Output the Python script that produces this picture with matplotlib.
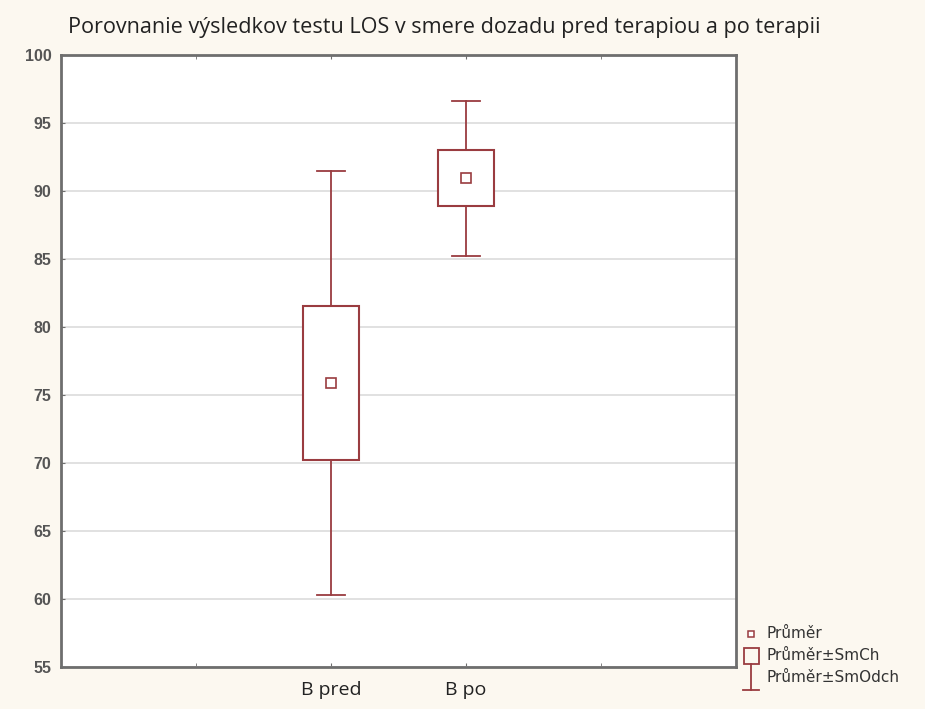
import matplotlib.pyplot as plt
from matplotlib.patches import Rectangle
from matplotlib.lines import Line2D
import numpy as np

# data
groups = ['B pred', 'B po']
means = [75.88, 90.95]
se = [5.66, 2.05]      # SmCh
sd = [15.6, 5.7]       # SmOdch

title = 'Porovnanie výsledkov testu LOS v smere dozadu pred terapiou a po terapii'
legend_labels = ['Průměr', 'Průměr±SmCh', 'Průměr±SmOdch']

red = '#9a3c40'
bg = '#fcf8f0'

fig = plt.figure(figsize=(9.25, 7.09), dpi=100, facecolor=bg)
ax = fig.add_axes([61/925, 1-667/709, (736-61)/925, (667-55)/709])
ax.set_facecolor('white')

pos = np.arange(len(groups)) + 2
box_w = 0.41
cap_w = 0.21
for x, m, s, d in zip(pos, means, se, sd):
	ax.plot([x, x], [m+s, m+d], color=red, lw=1.3, zorder=3)
	ax.plot([x, x], [m-s, m-d], color=red, lw=1.3, zorder=3)
	ax.plot([x-cap_w/2, x+cap_w/2], [m+d, m+d], color=red, lw=1.3, zorder=3)
	ax.plot([x-cap_w/2, x+cap_w/2], [m-d, m-d], color=red, lw=1.3, zorder=3)
	ax.add_patch(Rectangle((x-box_w/2, m-s), box_w, 2*s, fill=True, facecolor='white',
		edgecolor=red, lw=1.5, zorder=4))
	ax.plot(x, m, 's', ms=6.5, mfc='white', mec=red, mew=1.2, zorder=5)

ax.set_xlim(0, 5)
ax.set_ylim(55, 100)
ax.set_yticks(np.arange(55, 101, 5))
ax.set_xticks(pos)
ax.set_xticklabels(groups)
ax.xaxis.set_minor_locator(plt.FixedLocator([1, 4]))
ax.grid(axis='y', color='#dcdcdc', lw=1.2, zorder=0)
for sp in ax.spines.values():
	sp.set_color('#6e6e6e')
	sp.set_linewidth(2)
ax.tick_params(axis='y', direction='in', length=3, color='#6e6e6e', labelsize=11.5,
	labelcolor='#555555', pad=7)
ax.tick_params(axis='x', which='both', direction='in', length=3, color='#6e6e6e',
	labelsize=14, labelcolor='#222222', pad=10, top=True)
for t in ax.get_yticklabels():
	t.set_fontweight('bold')
	t.set_family('Liberation Sans')
for t in ax.get_xticklabels():
	t.set_family('Open Sans')

fig.text(68/925, 1-28/709, title, fontsize=15.6, family='Open Sans', color='#222222',
	va='center', ha='left')

# legend drawn outside the axes, bottom right
lx = 751/925
fig.add_artist(Line2D([lx], [1-634/709], marker='s', ms=4.5, mfc='white', mec=red, mew=1.1,
	transform=fig.transFigure))
fig.add_artist(Rectangle((744/925, 1-664/709), 15/925, 16/709, transform=fig.transFigure,
	fill=False, edgecolor=red, lw=1.3))
fig.add_artist(Line2D([lx, lx], [1-664/709, 1-690/709], color=red, lw=1.3,
	transform=fig.transFigure))
fig.add_artist(Line2D([743/925, 759/925], [1-690/709, 1-690/709], color=red, lw=1.3,
	transform=fig.transFigure))
for lab, yy in zip(legend_labels, [634, 656, 678]):
	fig.text(766/925, 1-yy/709, lab, fontsize=11, family='DejaVu Sans',
		color='#333333', va='center', ha='left')

fig.savefig('out.png', dpi=100, facecolor=bg)
